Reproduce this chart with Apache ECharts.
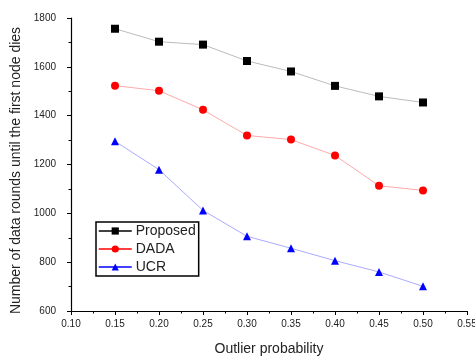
<!DOCTYPE html>
<html><head><meta charset="utf-8">
<script src="https://cdn.jsdelivr.net/npm/echarts@6/dist/echarts.min.js"></script>
<style>html,body{margin:0;padding:0;background:#fff}#c{width:475px;height:356px}</style>
</head><body><div id="c"></div>
<script>
var xValues = [0.15, 0.20, 0.25, 0.30, 0.35, 0.40, 0.45, 0.50];
var proposed = [1756, 1703, 1691, 1624, 1581, 1522, 1479, 1454];
var dada = [1523, 1502, 1424, 1319, 1302, 1237, 1113, 1094];
var ucr = [1295, 1179, 1012, 906, 857, 806, 760, 701];
var seriesNames = ['Proposed', 'DADA', 'UCR'];

function pairs(v){ return xValues.map(function(x,i){ return [x, v[i]]; }); }
var font = 'Liberation Sans, Arial, sans-serif';
var chart = echarts.init(document.getElementById('c'));
chart.setOption({
  animation: false,
  grid: {left: 71, top: 18, right: 8, bottom: 45, outerBoundsMode: 'none', containLabel: false},
  legend: {
    left: 96, top: 222, orient: 'vertical', itemGap: 4, itemWidth: 33, itemHeight: 9,
    padding: [2, 3, 2, 2],
    borderColor: '#000', borderWidth: 1.5, backgroundColor: '#fff',
    textStyle: {fontFamily: font, fontSize: 14, color: '#222', padding: [0, 0, 0, -1]},
    data: [
      {name: seriesNames[0], lineStyle: {color: '#000', width: 1.5}},
      {name: seriesNames[1], lineStyle: {color: '#f00', width: 1.5}},
      {name: seriesNames[2], lineStyle: {color: '#00f', width: 1.5}}
    ]
  },
  xAxis: {
    type: 'value', min: 0.10, max: 0.55, interval: 0.05,
    name: 'Outlier probability', nameLocation: 'middle', nameGap: 31,
    nameTextStyle: {fontFamily: font, fontSize: 14, color: '#222'},
    axisLine: {lineStyle: {color: '#000', width: 1.2}},
    axisTick: {length: 4, lineStyle: {color: '#000'}},
    minorTick: {show: true, splitNumber: 2, length: 2.5, lineStyle: {color: '#000'}},
    splitLine: {show: false},
    axisLabel: {fontFamily: font, fontSize: 10, color: '#222', margin: 8,
      formatter: function(v){ return v.toFixed(2); }}
  },
  yAxis: {
    type: 'value', min: 600, max: 1800, interval: 200,
    name: 'Number of data rounds until the first node dies', nameLocation: 'middle', nameGap: 39,
    nameTextStyle: {fontFamily: font, fontSize: 14, color: '#222', padding: [0, 12, 0, 0]},
    axisLine: {show: true, lineStyle: {color: '#000', width: 1.2}},
    axisTick: {show: true, length: 4, lineStyle: {color: '#000'}},
    minorTick: {show: true, splitNumber: 2, length: 2.5, lineStyle: {color: '#000'}},
    splitLine: {show: false},
    axisLabel: {fontFamily: font, fontSize: 10, color: '#222', margin: 15,
      formatter: function(v){ return String(v); }}
  },
  series: [
    {name: seriesNames[0], type: 'line', data: pairs(proposed), symbol: 'rect', symbolSize: 8,
     itemStyle: {color: '#000'}, lineStyle: {color: '#bbb', width: 1}},
    {name: seriesNames[1], type: 'line', data: pairs(dada), symbol: 'circle', symbolSize: 8,
     itemStyle: {color: '#f00'}, lineStyle: {color: '#ffaaaa', width: 1}},
    {name: seriesNames[2], type: 'line', data: pairs(ucr), symbol: 'triangle', symbolSize: 8,
     itemStyle: {color: '#00f'}, lineStyle: {color: '#aaaaff', width: 1}}
  ]
});
</script></body></html>
